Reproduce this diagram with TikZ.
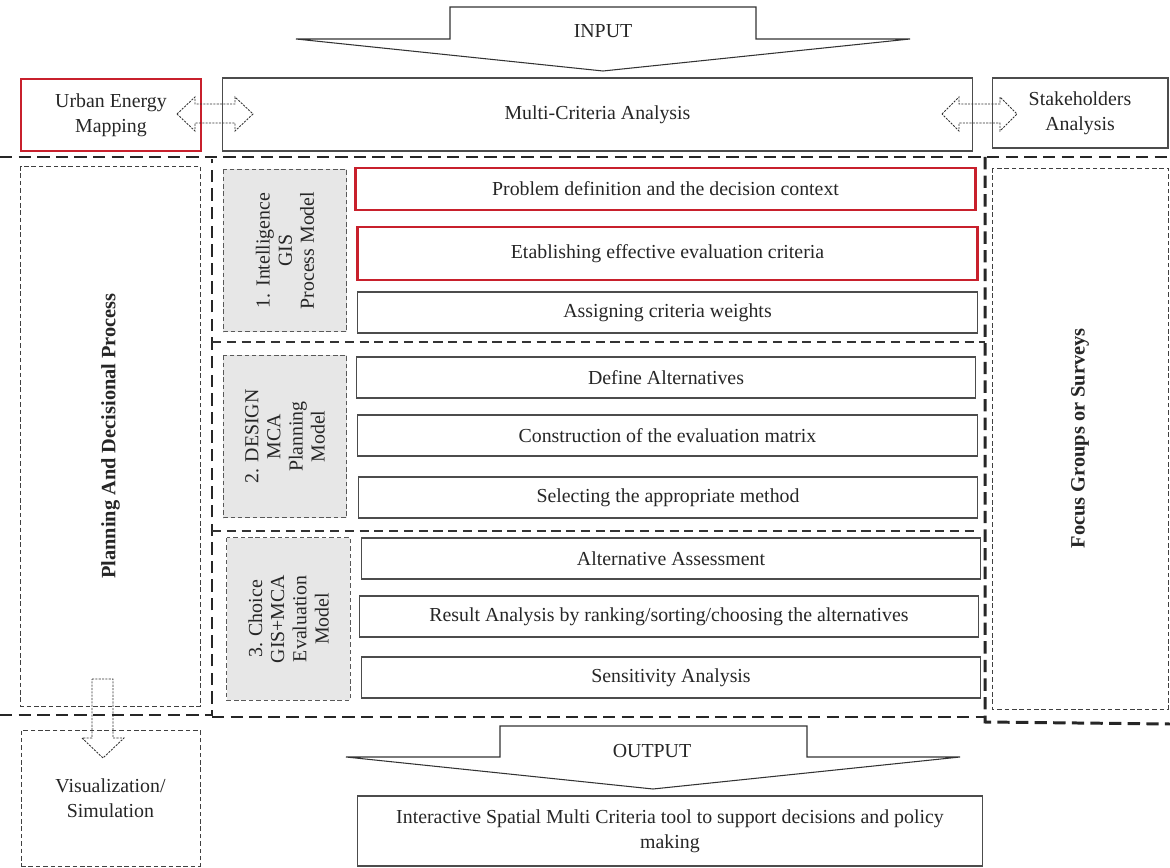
\documentclass[tikz,border=0pt]{standalone}
\usepackage{fontspec}
\setmainfont{Liberation Serif}
\usetikzlibrary{shapes,arrows,positioning}
\definecolor{mapred}{RGB}{200,32,44}
\definecolor{modelgray}{RGB}{231,231,231}

\begin{document}
\begin{tikzpicture}[x=0.02cm,y=-0.02cm,
  font=\fontsize{11.3}{14}\selectfont,
  every node/.style={text=black!85,inner sep=1pt,align=center},
  taskbox/.style={draw=black!70,line width=0.6pt,minimum width=12.4cm,minimum height=0.82cm},
  redbox/.style={draw=mapred,line width=1.6pt},
  modelbox/.style={draw=black!65,fill=modelgray,line width=0.5pt,dash pattern=on 2.6pt off 1.6pt,
    rotate=90,minimum width=3.25cm,minimum height=2.47cm,font=\fontsize{11.3}{12.6}\selectfont},
  sidebox/.style={draw=black!75,line width=0.5pt,dash pattern=on 2.6pt off 1.6pt},
  sidetitle/.style={rotate=90,font=\fontsize{11.6}{14}\selectfont\bfseries},
  bigdash/.style={draw=black!85,line width=1.7pt,dash pattern=on 7pt off 3.6pt},
  secdash/.style={draw=black!80,line width=1.1pt,dash pattern=on 5.2pt off 3.2pt},
  blockarrow/.style={draw=black!80,line width=0.6pt},
  linkarrow/.style={draw=black!80,line width=0.5pt,dash pattern=on 1.2pt off 0.7pt}]
\useasboundingbox (0,0) rectangle (1170,868);
% Draw the dashed frame lines
\draw[bigdash] (0,157) -- (1170,157);
\draw[bigdash] (0,715) -- (212,715) -- (212,159);
\draw[bigdash] (212,717) -- (985,717);
\draw[bigdash] (985,157) -- (985,722) -- (1170,724);
\draw[secdash] (212,342) -- (985,342);
\draw[secdash] (212,531) -- (975,531);
% Draw the input arrow
\draw[blockarrow] (450,7) -- (756,7) -- (756,39) -- (910,39) -- (603,71) -- (296,39) -- (450,39) -- cycle;
\node (input) at (603,31) {INPUT};
% Draw the top row
\node[redbox,minimum width=3.6cm,minimum height=1.44cm] (uem) at (111,115) {Urban Energy\\Mapping};
\node[draw=black!70,line width=0.6pt,minimum width=15.02cm,minimum height=1.46cm] (mca) at (597.5,114.5) {Multi-Criteria Analysis};
\node[draw=black!70,line width=0.6pt,minimum width=3.52cm,minimum height=1.4cm] (sha) at (1080,113) {Stakeholders\\Analysis};
% Draw the double arrows
\draw[linkarrow] (177,114) -- (195,97) -- (195,104) -- (235,104) -- (235,97) -- (253,114)
  -- (235,131) -- (235,123) -- (195,123) -- (195,131) -- cycle;
\draw[linkarrow] (942,114) -- (959,97) -- (959,104) -- (1000,104) -- (1000,97) -- (1017,114)
  -- (1000,131) -- (1000,123) -- (959,123) -- (959,131) -- cycle;
% Draw the side boxes
\node[sidebox,sidetitle,minimum width=10.8cm,minimum height=3.6cm] (plan) at (110.5,436) {Planning And Decisional Process};
\node[sidebox,sidetitle,minimum width=10.82cm,minimum height=3.52cm] (focus) at (1080,438.5) {Focus Groups or Surveys};
% Draw the three models
\node[modelbox] (intel) at (285,250.5) {1. Intelligence\\GIS\\Process Model};
\node[modelbox] (design) at (285,436.5) {2. DESIGN\\MCA\\Planning\\Model};
\node[modelbox] (choice) at (288.5,619) {3. Choice\\GIS+MCA\\Evaluation\\Model};
% Draw the steps
\node[taskbox,redbox,minimum height=0.84cm] (problem) at (665.5,189) {Problem definition and the decision context};
\node[taskbox,redbox,minimum height=1.06cm] (criteria) at (667.5,253.5) {Etablishing effective evaluation criteria};
\node[taskbox] (weights) at (667.5,312.5) {Assigning criteria weights};
\node[taskbox] (alts) at (666,377.5) {Define Alternatives};
\node[taskbox] (matrix) at (667.5,435.5) {Construction of the evaluation matrix};
\node[taskbox] (method) at (668,497.5) {Selecting the appropriate method};
\node[taskbox] (assess) at (671,558.5) {Alternative Assessment};
\node[taskbox] (ranking) at (669,616.5) {Result Analysis by ranking/sorting/choosing the alternatives};
\node[taskbox] (sensitivity) at (671,677.5) {Sensitivity Analysis};
% Draw the visualization box and its arrow
\node[sidebox,minimum width=3.58cm,minimum height=2.72cm] (vis) at (110.5,798) {Visualization/\\Simulation};
\draw[linkarrow] (92,679) -- (113,679) -- (113,738) -- (124,738) -- (103,758) -- (82,738) -- (92,738) -- cycle;
% Draw the output arrow
\draw[blockarrow] (500,726) -- (807,726) -- (807,757) -- (960,757) -- (653,789) -- (346,757) -- (500,757) -- cycle;
\node (output) at (652,751) {OUTPUT};
\node[draw=black!70,line width=0.6pt,minimum width=12.52cm,minimum height=1.4cm] (tool) at (670,831)
  {Interactive Spatial Multi Criteria tool to support decisions and policy\\making};
\end{tikzpicture}
\end{document}
